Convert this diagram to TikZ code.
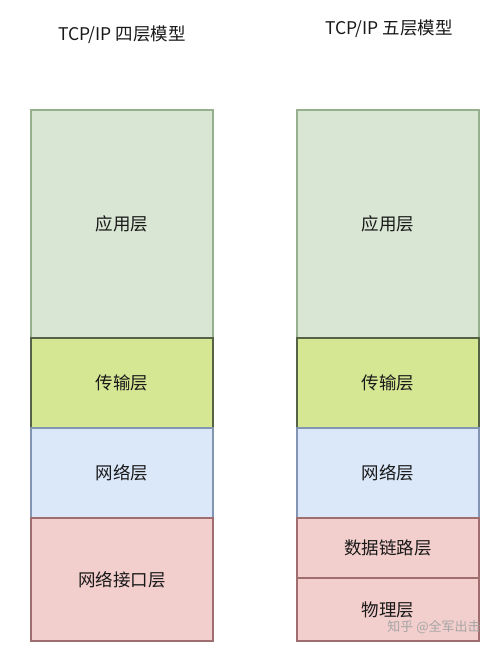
\documentclass[tikz,border=0pt]{standalone}
\usepackage{fontspec}
\setmainfont{Noto Sans CJK SC}
\usetikzlibrary{positioning}

\definecolor{appfill}{RGB}{216,230,211}
\definecolor{appline}{RGB}{150,175,140}
\definecolor{trafill}{RGB}{214,231,148}
\definecolor{traline}{RGB}{85,98,70}
\definecolor{netfill}{RGB}{219,232,250}
\definecolor{netline}{RGB}{130,150,180}
\definecolor{lnkfill}{RGB}{242,206,204}
\definecolor{lnkline}{RGB}{160,110,110}

\tikzset{
  layer/.style={draw, line width=1.3pt, minimum width=182pt, inner sep=0pt,
    outer sep=0pt, text=black!90, font=\fontsize{17.5}{17.5}\selectfont},
  app/.style={layer, fill=appfill, draw=appline},
  tra/.style={layer, fill=trafill, draw=traline},
  net/.style={layer, fill=netfill, draw=netline},
  lnk/.style={layer, fill=lnkfill, draw=lnkline},
  title/.style={text=black!90, font=\fontsize{17.5}{18}\selectfont},
}

\begin{document}
\begin{tikzpicture}[x=1pt,y=-1pt]
  \useasboundingbox (0,0) rectangle (500,649);

  % titles
  \node[title] (t4) at (122,35) {TCP/IP 四层模型};
  \node[title] (t5) at (389,29) {TCP/IP 五层模型};

  % four layer model
  \node[app, minimum height=228pt, anchor=north west] (app4) at (31,110) {应用层};
  \node[tra, minimum height=90pt,  below=0pt of app4] (tra4) {传输层};
  \node[net, minimum height=90pt,  below=0pt of tra4] (net4) {网络层};
  \node[lnk, minimum height=123pt, below=0pt of net4] (lnk4) {网络接口层};

  % five layer model
  \node[app, minimum height=228pt, anchor=north west] (app5) at (297,110) {应用层};
  \node[tra, minimum height=90pt,  below=0pt of app5] (tra5) {传输层};
  \node[net, minimum height=90pt,  below=0pt of tra5] (net5) {网络层};
  \node[lnk, minimum height=60pt,  below=0pt of net5] (dat5) {数据链路层};
  \node[lnk, minimum height=63pt,  below=0pt of dat5] (phy5) {物理层};

  % watermark
  \node[text=black!35, font=\fontsize{13}{13}\selectfont] (wm) at (434,627) {知乎 @全军出击};
\end{tikzpicture}
\end{document}
